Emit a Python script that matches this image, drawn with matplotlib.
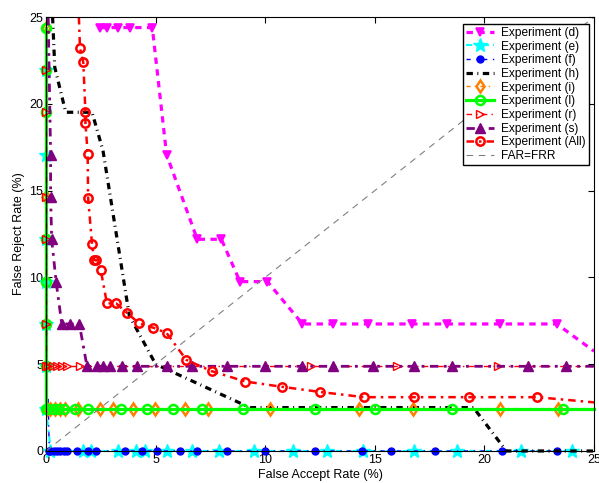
import matplotlib
matplotlib.use('agg')
import matplotlib.pyplot as plt
import numpy as np

plt.rcParams['font.family'] = ['Liberation Sans', 'DejaVu Sans']

# FRR steps are multiples of 100/41
s = 100.0 / 41

# Experiment (d)
d_far = [2.45, 2.8, 3.3, 3.85, 4.85, 5.5, 6.9, 8.0, 8.85, 10.1, 11.7, 13.1, 14.7, 16.7, 18.3, 20.7, 23.3, 25.0]
d_frr = [10*s, 10*s, 10*s, 10*s, 10*s, 7*s, 5*s, 5*s, 4*s, 4*s, 3*s, 3*s, 3*s, 3*s, 3*s, 3*s, 3*s, 5.75]

# Experiment (e)
e_far = [0, 0, 0, 0, 0, 0, 0, 0.15, 0.2, 1.7, 2.05, 3.3, 4.1, 4.5, 5.5, 6.65, 7.9, 9.5, 11.25, 12.8, 14.45, 16.8, 18.75, 21.65, 24.0]
e_frr = [9*s, 7*s, 5*s, 4*s, 3*s, 2*s, s, 0.8, 0, 0, 0, 0, 0, 0, 0, 0, 0, 0, 0, 0, 0, 0, 0, 0, 0]

# Experiment (f)
f_far = [0.1, 0.15, 0.2, 0.35, 0.5, 0.65, 0.8, 0.95, 1.4, 1.9, 2.3, 3.6, 4.4, 5.05, 6.1, 6.9, 8.25, 10.0,
         12.27, 14.4, 15.76, 17.74, 20.78, 23.3]
f_frr = [3.0, 0, 0, 0, 0, 0, 0, 0, 0, 0, 0, 0, 0, 0, 0, 0, 0, 0, 0, 0, 0, 0, 0, 0]

# Experiment (h)
h_far = [0.3, 0.4, 0.9, 2.1, 2.6, 3.8, 5.0, 9.3, 19.5, 21.0, 25.0]
h_frr = [25.0, 22.1, 8*s, 8*s, 17.3, 7.8, 5.0, 2.5, 2.5, 0, 0]

# Experiment (i)
i_far = [0, 0, 0, 0.05, 0.18, 0.41, 0.64, 0.87, 1.46, 2.46, 3.06, 3.97, 4.97, 6.34, 7.39, 10.2,
         14.3, 16.75, 20.7, 23.35, 25.0]
i_frr = [10*s, 6*s, 2*s] + [s] * 18

# Experiment (l)
l_far = [0, 0, 0, 0, 0, 0, 0, 0, 0.05, 0.3, 0.55, 0.8, 1.3, 1.9, 3.4, 4.6, 5.8, 7.1, 9.0, 12.27, 15.0, 18.5, 23.6, 25.0]
l_frr = [10*s, 9*s, 8*s, 5*s, 4*s, 3*s, 2*s, s] + [s] * 16

# Experiment (r)
r_far = [0, 0, 0, 0, 0, 0, 0.1, 0.33, 0.5, 0.73, 0.96, 1.55, 12.1, 16.0, 20.6, 25.0]
r_frr = [9*s, 8*s, 6*s, 5*s, 3*s, 2*s] + [2*s] * 10

# Experiment (s)
s_far = [0.1, 0.21, 0.21, 0.26, 0.46, 0.72, 1.09, 1.52, 1.87, 2.32, 2.6, 2.92, 3.47, 4.15, 5.5, 6.66, 8.25, 10.0,
         11.67, 13.1, 14.9, 16.8, 18.5, 22.0, 23.7, 25.0]
s_frr = [25.0, 7*s, 6*s, 5*s, 4*s, 3*s, 3*s, 3*s] + [2*s] * 18

# Experiment (All)
all_far = [1.5, 1.55, 1.7, 1.8, 1.8, 1.9, 1.92, 2.1, 2.2, 2.3, 2.5, 2.78, 3.2, 3.7, 4.25, 4.9, 5.5,
           6.4, 7.55, 9.1, 10.75, 12.5, 14.5, 16.8, 19.3, 22.4, 25.0]
all_frr = [25.0, 23.2, 22.4, 19.5, 18.9, 17.1, 14.6, 11.9, 11.0, 11.0, 10.4, 8.5, 8.5, 7.95, 7.35, 7.1, 6.8,
           5.25, 4.6, 4.0, 3.7, 3.4, 3.1, 3.1, 3.1, 3.1, 2.8]


def inner(n, first=0, last=0):
    # marker indices, skipping end points that only carry the line to the border
    return list(range(first, n - last))


fig = plt.figure(figsize=(5.99, 4.83), dpi=100)
ax = fig.add_axes([0.0768, 0.0663, 0.9149, 0.8985])

ax.plot(d_far, d_frr, color='#FF00FF', linestyle=(0, (2, 1.7)), lw=2.3, marker='v', markersize=6,
        markerfacecolor='#FF00FF', markeredgewidth=1.2, markevery=inner(len(d_far), last=1),
        label='Experiment (d)', clip_on=False)
ax.plot(e_far, e_frr, color='#00FFFF', linestyle=(0, (3, 2, 1, 2)), lw=1.5, marker='*', markersize=10,
        markevery=[k for k in range(len(e_far)) if k != 7], label='Experiment (e)', clip_on=False)
ax.plot(f_far, f_frr, color='#0000FF', linestyle=(0, (3, 4, 1, 4)), lw=1, marker='o', markersize=5,
        markevery=inner(len(f_far), first=1), label='Experiment (f)', clip_on=False)
ax.plot(h_far, h_frr, color='black', linestyle=(0, (2, 1.4, 0.3, 1.4)), lw=2.3, label='Experiment (h)',
        clip_on=False)
ax.plot(i_far, i_frr, color='#FF8000', linestyle=(0, (3, 3, 1, 3)), lw=1, marker='d', markersize=6.5,
        markerfacecolor='none', markeredgewidth=1.8, markevery=inner(len(i_far), last=1),
        label='Experiment (i)', clip_on=False)
ax.plot(l_far, l_frr, color='#00FF00', linestyle='-', lw=2.3, marker='o', markersize=6.5,
        markerfacecolor='none', markeredgewidth=1.8, markevery=inner(len(l_far), last=1),
        label='Experiment (l)', clip_on=False)
ax.plot(r_far, r_frr, color='#FF0000', linestyle=(0, (4, 3, 1, 3)), lw=1, marker='>', markersize=5.5,
        markerfacecolor='none', markeredgewidth=1, markevery=inner(len(r_far), last=1),
        label='Experiment (r)', clip_on=False)
ax.plot(s_far, s_frr, color='#800080', linestyle=(0, (3, 2, 1, 2)), lw=2, marker='^', markersize=6.5,
        markerfacecolor='#800080', markevery=inner(len(s_far), first=1, last=1),
        label='Experiment (s)', clip_on=False)
ax.plot(all_far, all_frr, color='#FF0000', linestyle=(0, (3, 2, 1, 2)), lw=1.8, marker='o', markersize=6,
        markerfacecolor='none', markeredgewidth=1.8, markevery=inner(len(all_far), first=1, last=1),
        label='Experiment (All)', clip_on=False)
ax.plot([0, 25], [0, 25], color='#808080', linestyle=(0, (6, 5)), lw=0.8, label='FAR=FRR')

ax.set_xlim(0, 25)
ax.set_ylim(0, 25)
ax.set_xticks([0, 5, 10, 15, 20, 25])
ax.set_yticks([0, 5, 10, 15, 20, 25])
ax.tick_params(direction='in', top=True, right=True, labelsize=9, length=4, pad=2)
ax.set_xlabel('False Accept Rate (%)', fontsize=9, labelpad=2)
ax.set_ylabel('False Reject Rate (%)', fontsize=9, labelpad=3)

leg = ax.legend(loc='upper right', bbox_to_anchor=(589 / 599, 1 - 24 / 483), bbox_transform=fig.transFigure,
                borderaxespad=0, fontsize=8.6, fancybox=False, edgecolor='black', framealpha=1,
                handlelength=2.4, labelspacing=0.14, borderpad=0.25, handletextpad=0.6)
leg.get_frame().set_linewidth(1)

fig.savefig('out.png', dpi=100)
